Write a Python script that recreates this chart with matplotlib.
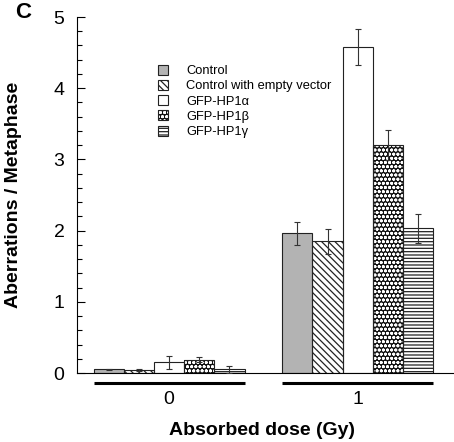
import numpy as np
import matplotlib
matplotlib.use('Agg')
import matplotlib.pyplot as plt
from matplotlib.ticker import MultipleLocator
from matplotlib.legend_handler import HandlerTuple

plt.rcParams['font.family'] = ['Liberation Sans', 'DejaVu Sans']
plt.rcParams['hatch.linewidth'] = 0.9

# 数据
doses = ['0', '1']
series = ['Control', 'Control with empty vector', 'GFP-HP1\u03b1', 'GFP-HP1\u03b2', 'GFP-HP1\u03b3']
means = [[0.05, 1.96],
         [0.04, 1.85],
         [0.15, 4.58],
         [0.19, 3.20],
         [0.05, 2.03]]
errs = [[0.01, 0.155],
        [0.01, 0.175],
        [0.09, 0.25],
        [0.04, 0.21],
        [0.045, 0.20]]

faces = ['#b3b3b3', 'white', 'white', '#111111', 'white']
hcols = ['#222222', '#222222', '#222222', 'white', '#222222']
hatches = [None, '\\\\\\\\\\', None, 'oooo', '-----']

fig = plt.figure(figsize=(4.54, 4.42), dpi=100)
ax = fig.add_axes([0.1696, 0.156, 0.83, 0.8055])

x = np.arange(len(doses))
w = 0.16
handles = []
for i in range(len(series)):
    xs = x + (i - 2) * w
    b = ax.bar(xs, means[i], w, color=faces[i], edgecolor=hcols[i],
               hatch=hatches[i], linewidth=0.0, zorder=2)
    # 边框单独画一层
    b2 = ax.bar(xs, means[i], w, fill=False, edgecolor='#222222', linewidth=0.8, zorder=2.5)
    handles.append((b, b2))
    ax.errorbar(xs, means[i], yerr=errs[i], fmt='none', ecolor='#333333',
                elinewidth=0.8, capsize=2.5, capthick=0.8, zorder=3)

ax.set_xlim(-0.489, 1.51)
ax.set_ylim(0, 5)
ax.spines['top'].set_visible(False)
ax.spines['right'].set_visible(False)
ax.spines['left'].set_bounds(0, 5)
ax.yaxis.set_major_locator(MultipleLocator(1))
ax.yaxis.set_minor_locator(MultipleLocator(0.2))
ax.tick_params(axis='y', which='major', direction='in', length=6, width=0.8, labelsize=14, pad=9)
ax.tick_params(axis='y', which='minor', direction='in', length=3.5, width=0.8)
ax.set_xticks(x)
ax.set_xticklabels(doses)
ax.tick_params(axis='x', length=0, labelsize=14, pad=13)

# 组下方的横线
for xi in x:
    ax.plot([xi - 2.5 * w, xi + 2.5 * w], [-0.028, -0.028], color='black', lw=2.2,
            transform=ax.get_xaxis_transform(), clip_on=False, solid_capstyle='butt')

ax.set_xlabel('Absorbed dose (Gy)', fontsize=14, fontweight='bold', va='center')
ax.set_ylabel('Aberrations / Metaphase', fontsize=14, fontweight='bold', va='center')
ax.xaxis.set_label_coords(0.49, -0.16)
ax.yaxis.set_label_coords(-0.168, 0.5)
fig.text(0.033, 0.972, 'C', fontsize=16, fontweight='bold', va='center')

ax.legend(handles=handles, labels=series, loc='upper left', bbox_to_anchor=(0.322, 0.88),
          bbox_transform=fig.transFigure, frameon=False, fontsize=9.3,
          handlelength=0.8, handleheight=0.8, handletextpad=1.4, labelspacing=0.22,
          handler_map={tuple: HandlerTuple(ndivide=1, pad=0)})

plt.savefig('out.png', dpi=100)
